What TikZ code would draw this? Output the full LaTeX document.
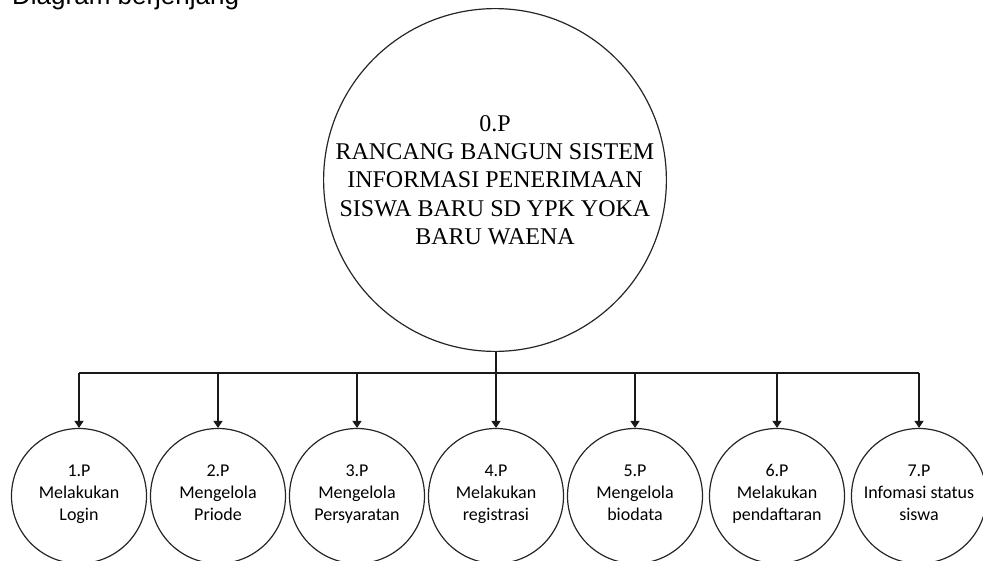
\documentclass[tikz,border=0pt]{standalone}
\usepackage{fontspec}
\setmainfont{Liberation Serif}
\newfontfamily\calibf{Carlito}
\newfontfamily\arialf{Liberation Sans}
\usetikzlibrary{arrows.meta}
\begin{document}
\begin{tikzpicture}[x=1pt,y=-1pt,
  bigproc/.style={circle,draw=black!85,line width=1.2pt,minimum size=336pt,inner sep=0pt,align=center,
    font=\fontsize{24}{28.3}\selectfont},
  subproc/.style={circle,draw=black!85,line width=1.2pt,minimum size=135pt,inner sep=0pt,align=center,
    font=\calibf\fontsize{18}{22}\selectfont,
    execute at begin node={\rule{0pt}{25.5pt}},
    execute at end node={\rule[-6.6pt]{0pt}{6.6pt}}},
  conn/.style={line width=1.2pt,draw=black!90},
  arr/.style={conn,-{Triangle[width=9pt,length=7pt]}},
  titletext/.style={font=\arialf\fontsize{26}{30}\selectfont,inner sep=0pt}
]
\useasboundingbox (0,0) rectangle (983,560);
\node[titletext,anchor=base west] (title) at (12,4) {Diagram berjenjang};
\node[bigproc] (p0) at (495,180) {0.P\\RANCANG BANGUN SISTEM\\INFORMASI PENERIMAAN\\SISWA BARU SD YPK YOKA\\BARU WAENA};
\node[subproc] (p1) at (79,496) {1.P\\Melakukan\\Login};
\node[subproc] (p2) at (218,496) {2.P\\Mengelola\\Priode};
\node[subproc] (p3) at (357,496) {3.P\\Mengelola\\Persyaratan};
\node[subproc] (p4) at (496,496) {4.P\\Melakukan\\registrasi};
\node[subproc] (p5) at (635,496) {5.P\\Mengelola\\biodata};
\node[subproc] (p6) at (777,496) {6.P\\Melakukan\\pendaftaran};
\node[subproc] (p7) at (919,496) {7.P\\Infomasi status\\siswa};
\coordinate (barL) at (79,373);
\coordinate (barR) at (919,373);
\coordinate (barM) at (496,373);
\draw[conn,line width=2.2pt] (p0.south -| barM) -- (barM);
\draw[conn] (barL) -- (barR);
\foreach \i in {1,...,7}{
  \draw[arr] (p\i.north |- barL) -- (p\i.north);
}
\end{tikzpicture}
\end{document}
